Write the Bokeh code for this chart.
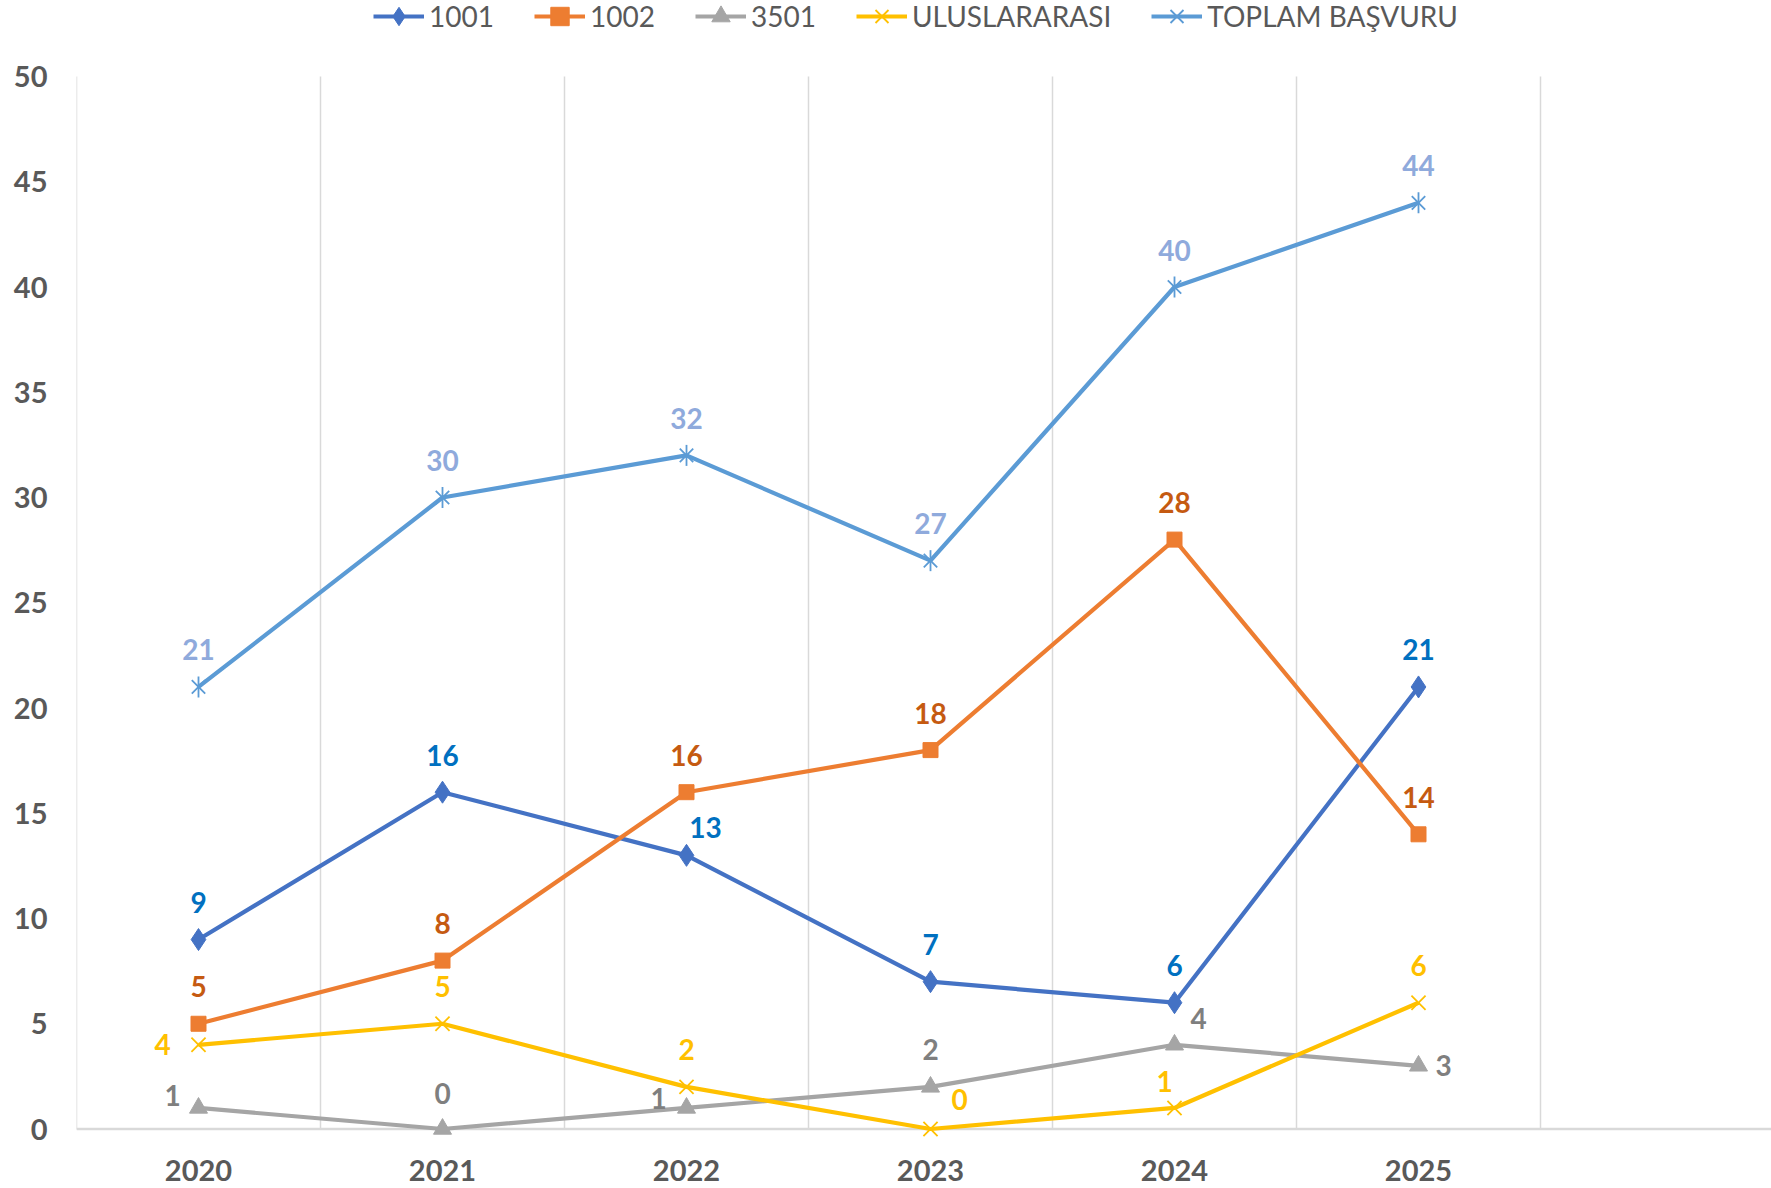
import math
from bokeh.plotting import figure
from bokeh.models import Range1d, FixedTicker, Legend, LegendItem, Span
from bokeh.embed import file_html
from bokeh.resources import INLINE
from bokeh.core.properties import value

# ---------------- data ----------------
years = [2020, 2021, 2022, 2023, 2024, 2025]
s1001 = [9, 16, 13, 7, 6, 21]
s1002 = [5, 8, 16, 18, 28, 14]
s3501 = [1, 0, 1, 2, 4, 3]
s_ulus = [4, 5, 2, 0, 1, 6]
s_toplam = [21, 30, 32, 27, 40, 44]
series_names = ["1001", "1002", "3501", "ULUSLARARASI", "TOPLAM BAŞVURU"]
y_ticks = [0, 5, 10, 15, 20, 25, 30, 35, 40, 45, 50]

# ---------------- styles / layout ----------------
W, H = 1771, 1188
ML, MR, MT, MB = 76, 0, 0, 50
TOP_GAP = 76          # px between canvas top and the value 50
PX_X = 244.0
PX_Y = 21.05
frame_w = W - ML - MR
frame_h = H - MT - MB
LEG_H = 46
LEG_TOP = -7

line_colors = ["#4472C4", "#ED7D31", "#A5A5A5", "#FFC000", "#5B9BD5"]
label_colors = ["#0070C0", "#C55A11", "#7F7F7F", "#FFC000", "#8FAADC"]
grey_text = "#595959"
grid_col = "#D9D9D9"
NUM_FONT = "Lato"

UP = (0, -37)
offsets = [
    [UP, UP, (19, -28), UP, UP, UP],
    [UP, UP, UP, UP, UP, UP],
    [(-26, -12), (0, -36), (-28, -9), UP, (24, -26), (25, 0)],
    [(-36, 0), UP, UP, (29, -30), (-10, -26), UP],
    [UP, UP, UP, UP, UP, UP],
]

x0 = years[0] - 0.5 - 1e-6
y_top = y_ticks[-1] + TOP_GAP / PX_Y
y_bot = y_top - frame_h / PX_Y
p = figure(width=W, height=H, output_backend="svg", toolbar_location=None,
           x_range=Range1d(x0, x0 + frame_w / PX_X),
           y_range=Range1d(y_bot, y_top),
           min_border_left=ML, min_border_right=MR, min_border_top=MT,
           min_border_bottom=MB)
p.outline_line_color = None
p.background_fill_color = "white"
p.border_fill_color = "white"

# grids
p.ygrid.visible = False
p.xgrid.ticker = FixedTicker(ticks=[y - 0.5 for y in years] + [years[-1] + 0.5, years[-1] + 1.5])
p.xgrid.grid_line_color = grid_col
p.xgrid.grid_line_width = 1.5
p.xgrid.cross_bounds = (0, y_ticks[-1])

# axes
p.xaxis.ticker = FixedTicker(ticks=years)
p.xaxis.axis_line_color = None
p.xaxis.major_tick_line_color = None
p.xaxis.minor_tick_line_color = None
p.xaxis.major_label_text_font = NUM_FONT
p.xaxis.major_label_text_font_style = "bold"
p.xaxis.major_label_text_font_size = "29px"
p.xaxis.major_label_text_color = grey_text
p.xaxis.major_label_standoff = 15

p.yaxis.ticker = FixedTicker(ticks=y_ticks)
p.yaxis.axis_line_color = None
p.yaxis.major_tick_line_color = None
p.yaxis.minor_tick_line_color = None
p.yaxis.major_label_text_font = NUM_FONT
p.yaxis.major_label_text_font_style = "bold"
p.yaxis.major_label_text_font_size = "29px"
p.yaxis.major_label_text_color = grey_text
p.yaxis.major_label_standoff = 23

p.add_layout(Span(location=0, dimension="width", line_color=grid_col,
                  line_width=2.5, level="underlay"))

all_series = [s1001, s1002, s3501, s_ulus, s_toplam]
items = []
for i, (name, vals) in enumerate(zip(series_names, all_series)):
    c = line_colors[i]
    rs = []
    rs.append(p.line(years, vals, line_color=c, line_width=4.2))
    if i == 0:
        rs.append(p.scatter(years, vals, marker="diamond", size=22, fill_color=c, line_color=c))
    elif i == 1:
        rs.append(p.scatter(years, vals, marker="square", size=15, fill_color=c, line_color=c))
    elif i == 2:
        rs.append(p.scatter(years, vals, marker="triangle", size=18, fill_color=c, line_color=c))
    elif i == 3:
        rs.append(p.scatter(years, vals, marker="x", size=20, line_color=c, line_width=1.8))
    else:
        rs.append(p.scatter(years, vals, marker="x", size=19, line_color=c, line_width=1.8))
        rs.append(p.scatter(years, vals, marker="dash", size=21, angle=math.pi / 2,
                            line_color=c, line_width=1.8))
    items.append(LegendItem(label=name, renderers=rs))

# data labels (drawn after all lines)
for i, vals in enumerate(all_series):
    p.text(x=years, y=vals, text=[str(v) for v in vals],
           x_offset=[o[0] for o in offsets[i]], y_offset=[o[1] for o in offsets[i]],
           text_align="center", text_baseline="middle",
           text_font=value(NUM_FONT), text_font_style="bold",
           text_font_size="28px", text_color=label_colors[i])

legend = Legend(items=items, orientation="horizontal",
                location=(297, frame_h - LEG_H - LEG_TOP),
                padding=0, margin=0, spacing=40, label_standoff=5,
                glyph_width=51, glyph_height=LEG_H, label_height=30,
                label_text_font="Lato",
                label_text_font_size="28px", label_text_color=grey_text,
                background_fill_alpha=0, border_line_alpha=0)
p.add_layout(legend, "center")

open("out.html", "w").write(file_html(p, INLINE))
